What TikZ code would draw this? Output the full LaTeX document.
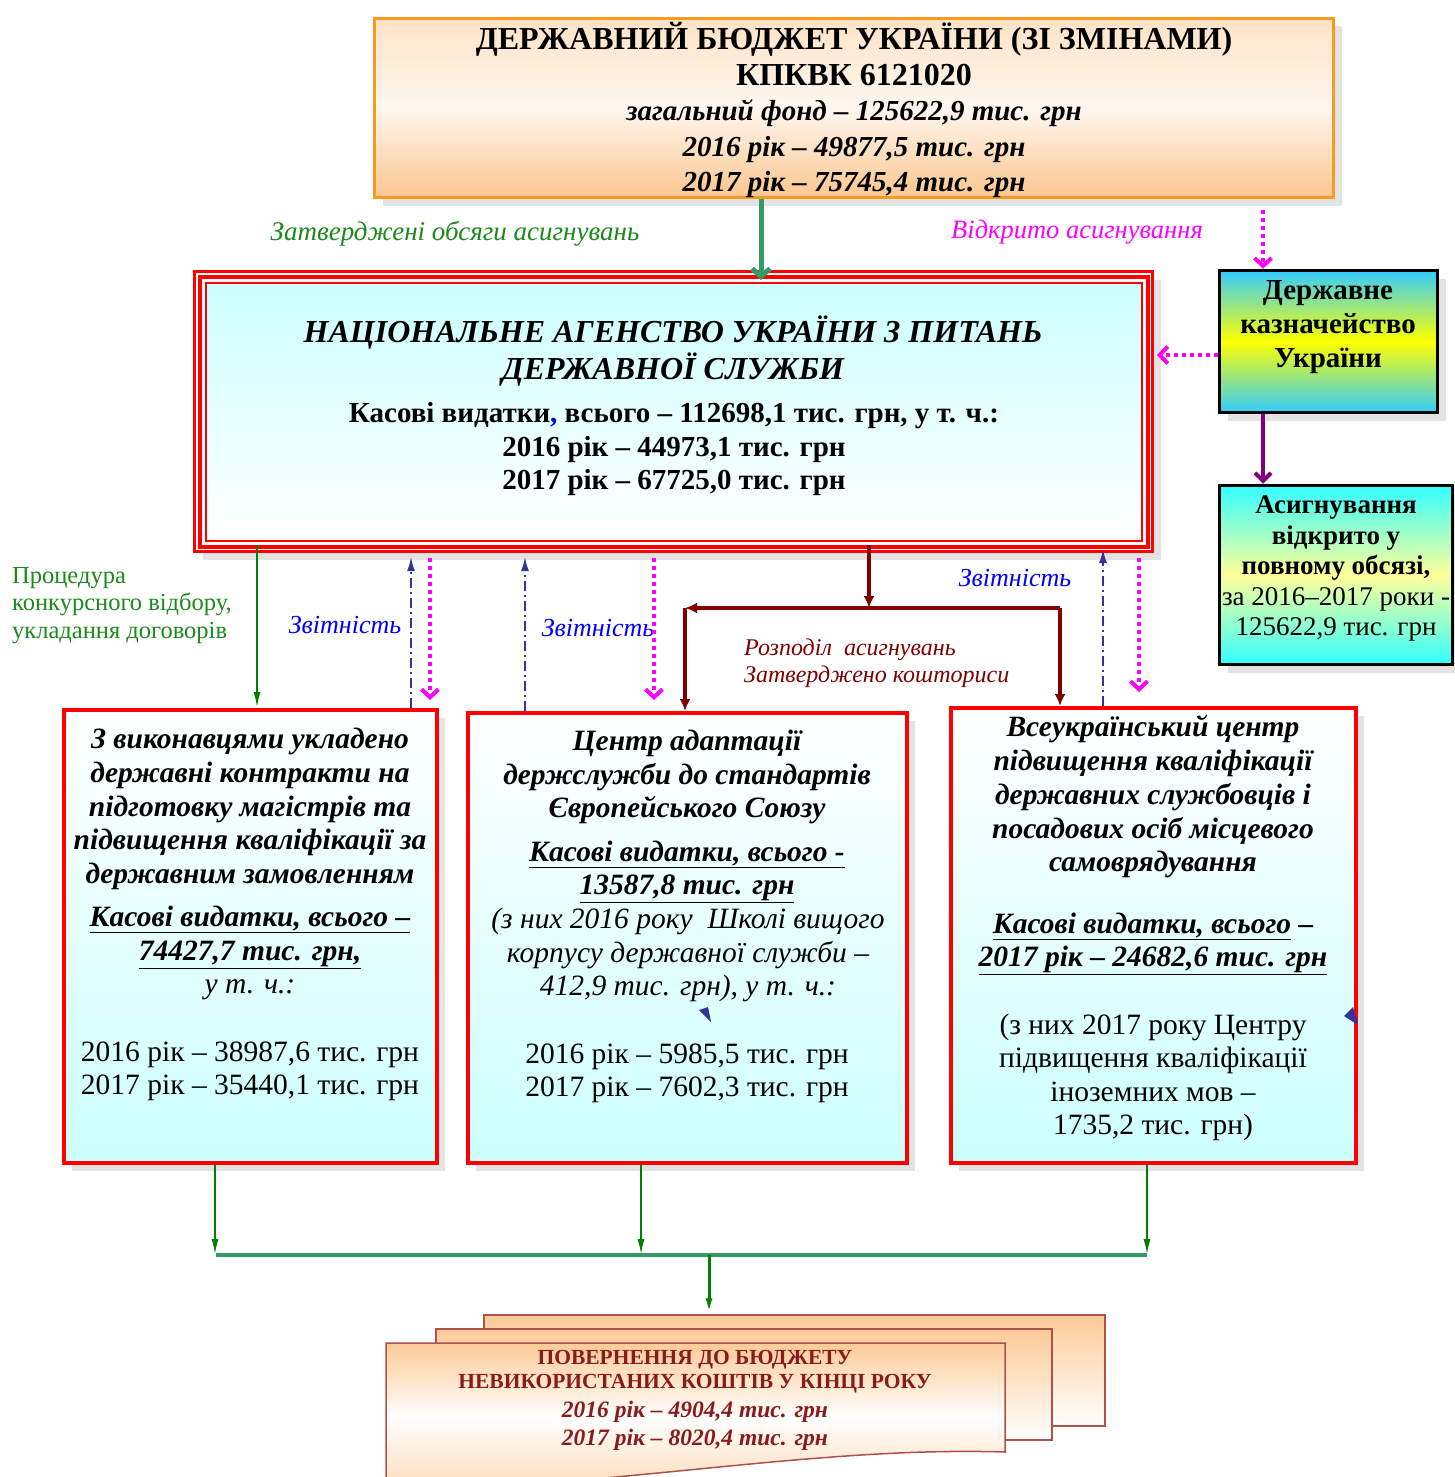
\documentclass[tikz,border=0pt]{standalone}
\usepackage{fontspec}
\setmainfont{Liberation Serif}
\usetikzlibrary{arrows.meta,shadows,calc}
\definecolor{orangeB}{HTML}{F79A1E}
\definecolor{peachT}{HTML}{FDE3C6}
\definecolor{peachB}{HTML}{FBC68F}
\definecolor{peach}{HTML}{FDCB98}
\definecolor{cyanL}{HTML}{CCFFFF}
\definecolor{navyD}{HTML}{333399}
\definecolor{magentaD}{HTML}{FF00FF}
\definecolor{dredA}{HTML}{800000}
\definecolor{greenL}{HTML}{1A8A1A}
\definecolor{greenA}{HTML}{008000}
\definecolor{seaG}{HTML}{339966}
\definecolor{purpleA}{HTML}{800080}
\definecolor{skyB}{HTML}{33CCFF}
\definecolor{aquaB}{HTML}{33FFFF}
\definecolor{lyellow}{HTML}{FFFF99}
\definecolor{shadowG}{HTML}{E3E3E3}
\definecolor{sheetB}{HTML}{B0504A}
\definecolor{sheetT}{HTML}{8B1A1A}
\tikzset{
  shd/.style={drop shadow={shadow xshift=8pt, shadow yshift=-8pt, fill=shadowG, opacity=1}},
  tbox/.style={draw=orangeB, line width=3pt, top color=peachT, bottom color=peachB, middle color=white!85!peach, shd},
  redbox/.style={draw=red, line width=4pt, top color=white, bottom color=cyanL, shd},
  trbox/.style={draw=black, line width=3.5pt, top color=skyB, bottom color=skyB, middle color=yellow, shd},
  asbox/.style={draw=black, line width=3.5pt, top color=aquaB, bottom color=aquaB, middle color=lyellow, shd},
  sheet/.style={draw=sheetB, line width=1.5pt, top color=peach, bottom color=white},
  txt/.style={align=center, inner sep=0pt, yshift=-2.5pt},
  ltxt/.style={anchor=west, align=left, inner sep=0pt, yshift=-2.5pt},
  garrow/.style={draw=greenA, line width=2pt, -{Latex[length=16pt,width=7pt]}},
  navyarrow/.style={draw=navyD, line width=1.8pt, dash pattern=on 10pt off 4pt on 2pt off 4pt, -{Latex[length=14pt,width=8pt]}},
  magarrow/.style={draw=magentaD, line width=4pt, dash pattern=on 4pt off 4pt, -{Straight Barb[length=8pt,width=17pt]}},
  dredarrow/.style={draw=dredA, line width=4.5pt, -{Latex[length=12pt,width=11pt]}},
  seaarrow/.style={draw=seaG, line width=5pt, -{Straight Barb[length=8pt,width=18pt]}},
  purarrow/.style={draw=purpleA, line width=4pt, -{Straight Barb[length=8pt,width=16pt]}},
  busline/.style={draw=seaG, line width=4pt},
  tri/.style={fill=navyD},
}
\begin{document}
\begin{tikzpicture}[x=1pt,y=-1pt]
\useasboundingbox[fill=white] (0,0) rectangle (1454,1477);

% ---------- top box ----------
\node[tbox, minimum width=959pt, minimum height=179pt] (tb) at (854,108) {};
\node[txt, yshift=1.5pt, font=\fontsize{29}{35.5}\selectfont\bfseries] (tbt) at (854,109)
 {\fontsize{32}{35.5}\selectfont ДЕРЖАВНИЙ БЮДЖЕТ УКРАЇНИ (ЗІ ЗМІНАМИ)\\
  \fontsize{32}{35.5}\selectfont КПКВК 6121020\\
  \itshape загальний фонд – 125622,9 тис. грн\\
  \itshape 2016 рік – 49877,5 тис. грн\\
  \itshape 2017 рік – 75745,4 тис. грн};

\node[txt, font=\fontsize{27}{30}\selectfont\itshape, text=greenL] (lbl1) at (455,231) {Затверджені обсяги асигнувань};
\node[txt, font=\fontsize{26.5}{30}\selectfont\itshape, text=magentaD] (lbl2) at (1077,230) {Відкрито асигнування};

% ---------- main box ----------
\node[draw=red, line width=3pt, fill=white, minimum width=958pt, minimum height=280pt, shd] (mb) at (673.5,411.5) {};
\draw[red, line width=4pt] ($(mb.north west)+(6.5,6.5)$) rectangle ($(mb.south east)+(-6.5,-6.5)$);
\shade[top color=cyanL, bottom color=white, draw=red, line width=2pt] ($(mb.north west)+(12.5,12.5)$) rectangle ($(mb.south east)+(-12.5,-12.5)$);
\node[txt, font=\fontsize{32}{37}\selectfont\bfseries\itshape] (mbt) at (673,348.5)
 {НАЦІОНАЛЬНЕ АГЕНСТВО УКРАЇНИ З ПИТАНЬ\\ДЕРЖАВНОЇ СЛУЖБИ};
\node[txt, font=\fontsize{29}{33.5}\selectfont\bfseries] (mbb) at (674,447)
 {Касові видатки\textcolor{blue}{,} всього – 112698,1 тис. грн, у т. ч.:\\
  2016 рік – 44973,1 тис. грн\\2017 рік – 67725,0 тис. грн};

% ---------- treasury ----------
\node[trbox, minimum width=218pt, minimum height=142pt] (tr) at (1328.5,341.5) {};
\node[txt, font=\fontsize{29}{34}\selectfont\bfseries] (trt) at (1328,325) {Державне\\казначейство\\України};

\node[asbox, minimum width=233pt, minimum height=179pt] (ab) at (1336,575) {};
\node[txt, font=\fontsize{27}{30.5}\selectfont] (abt) at (1336,566)
 {\bfseries Асигнування\\\bfseries відкрито у\\\bfseries повному обсязі,\\за 2016–2017 роки -\\125622,9 тис. грн};

% ---------- side labels ----------
\node[ltxt, font=\fontsize{24.5}{27.5}\selectfont, text=greenL] (proc) at (12,603)
 {Процедура\\конкурсного відбору,\\укладання договорів};
\node[txt, font=\fontsize{26}{28}\selectfont\itshape, text=blue] (zv1) at (345,623) {Звітність};
\node[txt, font=\fontsize{26}{28}\selectfont\itshape, text=blue] (zv2) at (598,626) {Звітність};
\node[txt, font=\fontsize{26}{28}\selectfont\itshape, text=blue] (zv3) at (1015,576) {Звітність};
\node[ltxt, font=\fontsize{24}{27}\selectfont\itshape, text=dredA] (rozp) at (744,660.5)
 {Розподіл\ \ асигнувань\\Затверджено кошториси};

% ---------- lower boxes ----------
\node[redbox, minimum width=373pt, minimum height=453pt] (lb) at (250.5,936.5) {};
\node[redbox, minimum width=439pt, minimum height=450pt] (cb) at (687.5,938) {};
\node[redbox, minimum width=405pt, minimum height=455pt] (rb) at (1153.5,935.5) {};

\node[txt, font=\fontsize{29.5}{33.75}\selectfont\bfseries\itshape] (lb1) at (250,806.5)
 {З виконавцями укладено\\державні контракти на\\підготовку магістрів та\\підвищення кваліфікації за\\державним замовленням};
\node[txt, font=\fontsize{29.5}{33.5}\selectfont\itshape] (lb2) at (250,950.5)
 {\bfseries\underline{Касові видатки, всього –}\\\bfseries\underline{74427,7 тис. грн,}\\у т. ч.:};
\node[txt, font=\fontsize{29.5}{33}\selectfont] (lb3) at (250,1069)
 {2016 рік – 38987,6 тис. грн\\2017 рік – 35440,1 тис. грн};

\node[txt, font=\fontsize{29.5}{33.5}\selectfont\bfseries\itshape] (cb1) at (687,774.5)
 {Центр адаптації\\держслужби до стандартів\\Європейського Союзу};
\node[txt, font=\fontsize{29.5}{33}\selectfont\bfseries\itshape] (cb2) at (687,869)
 {\underline{Касові видатки, всього -}\\\underline{13587,8 тис. грн}};
\node[txt, font=\fontsize{29.5}{33.5}\selectfont\itshape] (cb3) at (688,952.5)
 {(з них 2016 року\ \ Школі вищого\\корпусу державної служби –\\412,9 тис. грн), у т. ч.:};
\node[txt, font=\fontsize{29.5}{33}\selectfont] (cb4) at (687,1071)
 {2016 рік – 5985,5 тис. грн\\2017 рік – 7602,3 тис. грн};

\node[txt, font=\fontsize{29.5}{33.75}\selectfont\bfseries\itshape] (rb1) at (1153,794.5)
 {Всеукраїнський центр\\підвищення кваліфікації\\державних службовців і\\посадових осіб місцевого\\самоврядування};
\node[txt, font=\fontsize{29.5}{33}\selectfont\bfseries\itshape] (rb2) at (1153,941)
 {\underline{Касові видатки, всього} –\\\underline{2017 рік – 24682,6 тис. грн}};
\node[txt, font=\fontsize{29.5}{33.3}\selectfont] (rb3) at (1153,1075)
 {(з них 2017 року Центру\\підвищення кваліфікації\\іноземних мов –\\1735,2 тис. грн)};

\fill[tri] (699,1010) -- (708,1007) -- (711,1022) -- cycle;
\fill[tri] (1344,1016) -- (1353,1007) -- (1358,1025) -- cycle;

% ---------- bottom sheets ----------
\node[sheet, minimum width=621pt, minimum height=111pt] (sh3) at (794.5,1370.5) {};
\node[sheet, minimum width=616pt, minimum height=111pt] (sh2) at (744,1384.5) {};
\shade[draw=sheetB, line width=1.5pt, top color=peach, bottom color=peach!70, middle color=white]
  (386,1343) -- (1005,1343) -- (1005,1452) .. controls (820,1446) and (620,1486) .. (386,1492) -- cycle;
\node[txt, font=\fontsize{21.5}{24}\selectfont\bfseries, text=sheetT] (sht1) at (695,1369)
 {ПОВЕРНЕННЯ ДО БЮДЖЕТУ\\НЕВИКОРИСТАНИХ КОШТІВ У КІНЦІ РОКУ};
\node[txt, font=\fontsize{23.5}{28}\selectfont\bfseries\itshape, text=sheetT] (sht2) at (695,1423)
 {2016 рік – 4904,4 тис. грн\\2017 рік – 8020,4 тис. грн};

% ---------- coordinates ----------
\coordinate (xa) at (761,0);
\coordinate (xt) at (1263,0);
\coordinate (yt) at (0,355);
\coordinate (x1) at (257,0);
\coordinate (x2) at (411,0);
\coordinate (x3) at (430,0);
\coordinate (x4) at (525,0);
\coordinate (x5) at (654,0);
\coordinate (x6) at (869,0);
\coordinate (x7) at (1103,0);
\coordinate (x8) at (1139,0);
\coordinate (split) at (869,608);
\coordinate (splitL) at (685,608);
\coordinate (splitR) at (1060,608);
\coordinate (busL) at (215,1255);
\coordinate (busM) at (641,1255);
\coordinate (busR) at (1147,1255);
\coordinate (busC) at (709,1255);

% ---------- connectors ----------
\draw[seaarrow, shorten >=-10pt] (tb.south -| xa) -- (mb.north -| xa);
\draw[magarrow, shorten <=11pt] (tb.south -| xt) -- (tr.north -| xt);
\draw[magarrow, shorten >=3pt] (tr.west |- yt) -- (mb.east |- yt);
\draw[purarrow] (tr.south -| xt) -- (ab.north -| xt);

\draw[garrow, shorten <=-8pt] (mb.south -| x1) -- (lb.north -| x1);
\draw[navyarrow, shorten >=4pt] (lb.north -| x2) -- (mb.south -| x2);
\draw[magarrow, shorten <=5pt, shorten >=8pt] (mb.south -| x3) -- (lb.north -| x3);
\draw[navyarrow, shorten >=4pt] (cb.north -| x4) -- (mb.south -| x4);
\draw[magarrow, shorten <=5pt, shorten >=11pt] (mb.south -| x5) -- (cb.north -| x5);
\draw[dredarrow, shorten <=-8pt] (mb.south -| x6) -- (split);
\draw[dredarrow] (splitR) -- (splitL);
\draw[dredarrow] (splitL) -- (cb.north -| splitL);
\draw[dredarrow] (splitR) -- (rb.north -| splitR);
\draw[navyarrow, shorten >=-4pt] (rb.north -| x7) -- (mb.south -| x7);
\draw[magarrow, shorten <=5pt, shorten >=14pt] (mb.south -| x8) -- (rb.north -| x8);

\draw[garrow] (lb.south -| busL) -- (busL);
\draw[garrow] (cb.south -| busM) -- (busM);
\draw[garrow] (rb.south -| busR) -- (busR);
\draw[busline] ([xshift=1pt]busL) -- (busR);
\draw[garrow, line width=3pt] (busC) -- (sh3.north -| busC);
\end{tikzpicture}
\end{document}
